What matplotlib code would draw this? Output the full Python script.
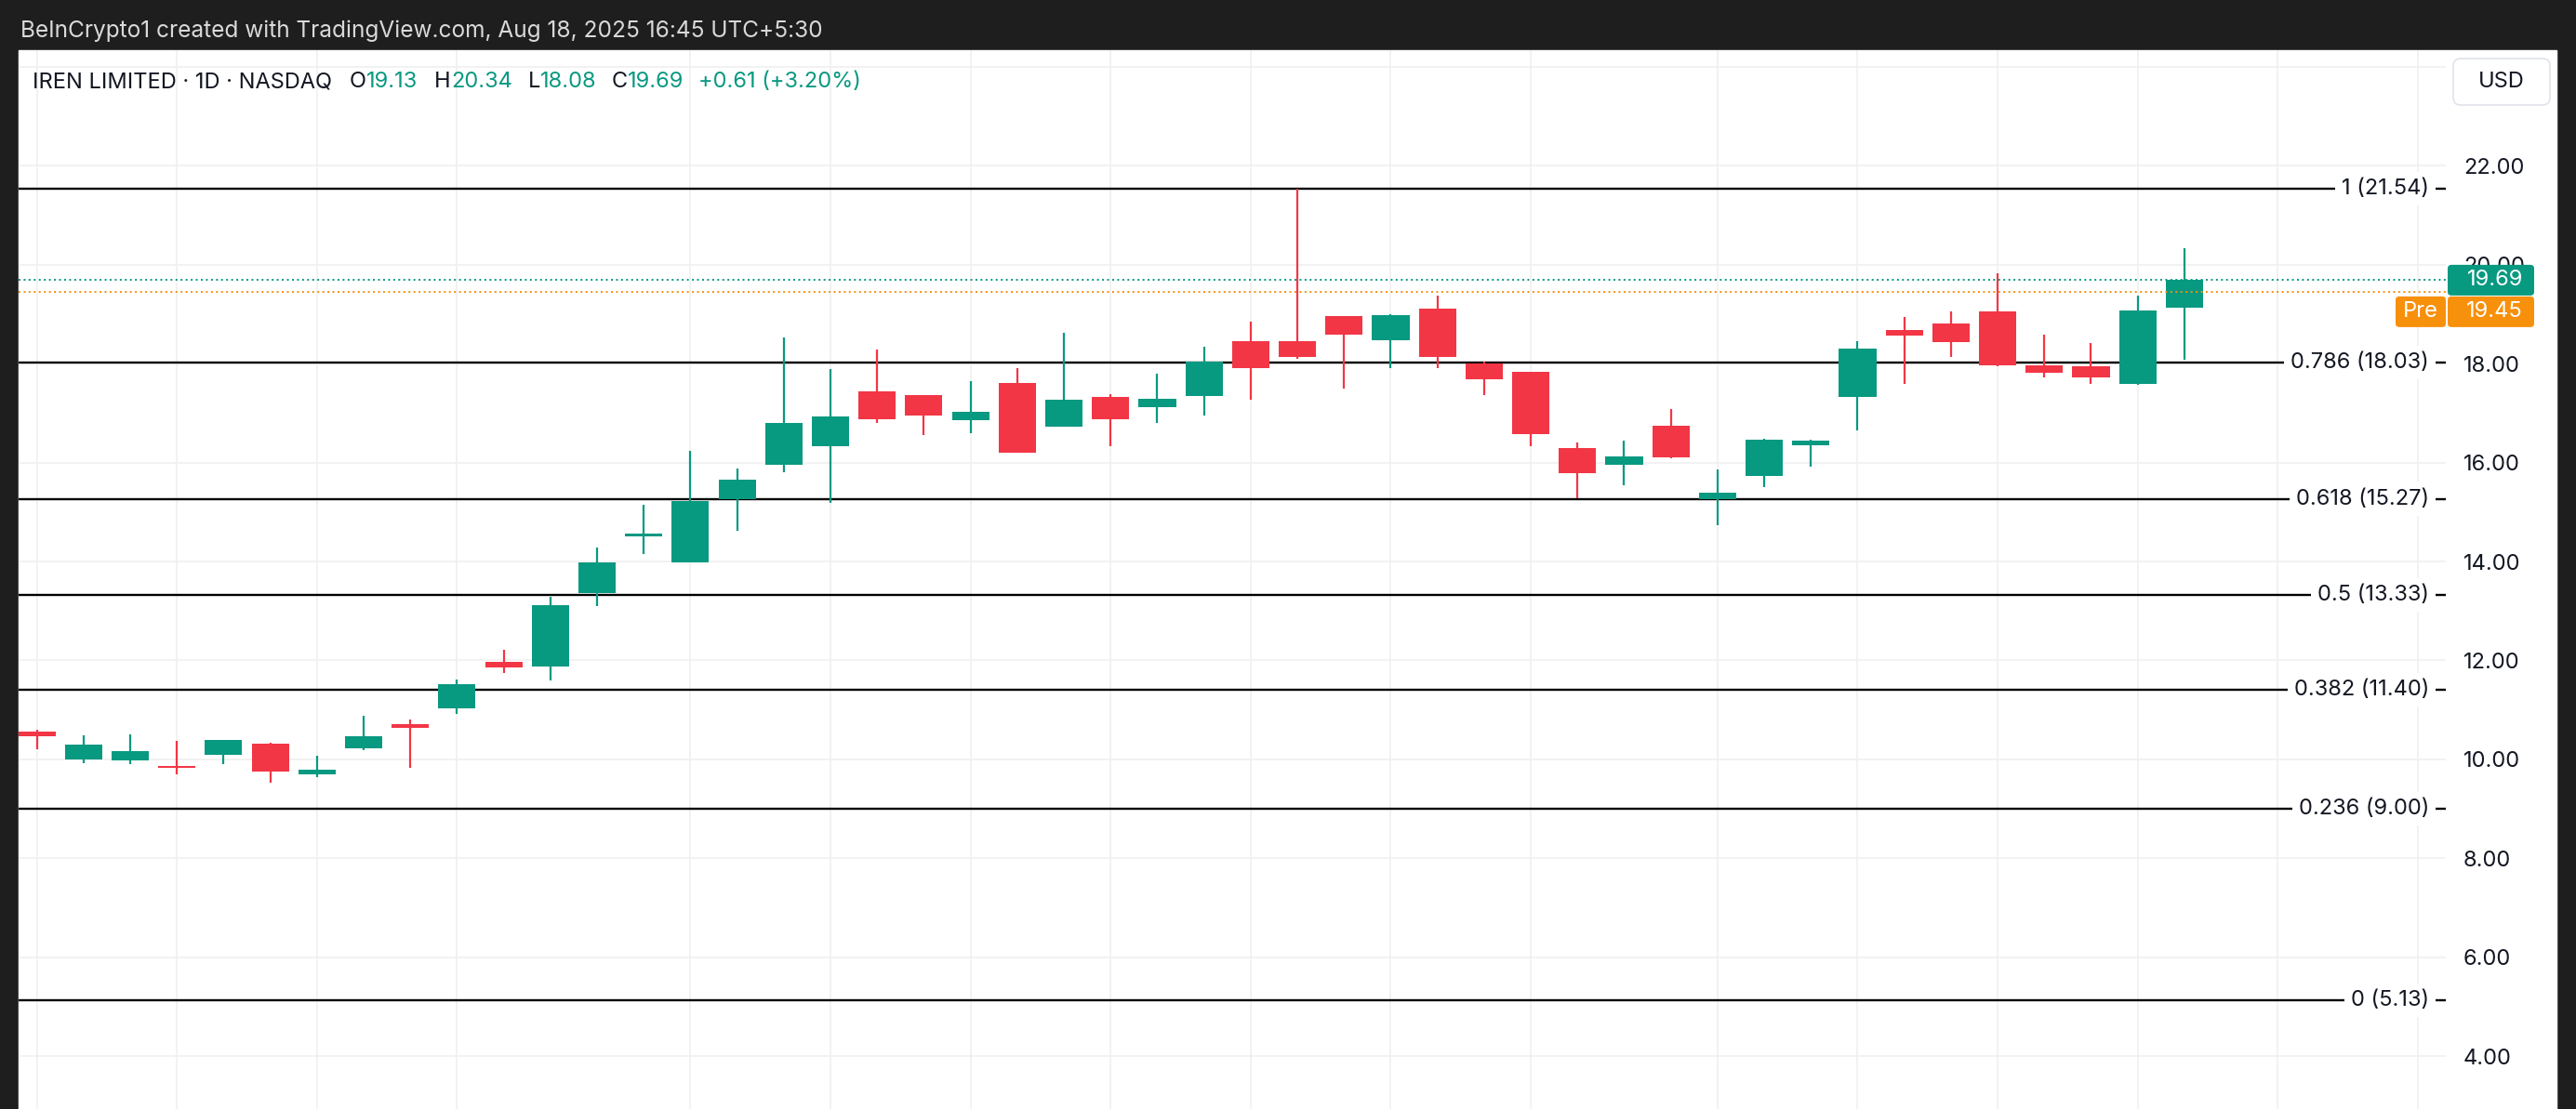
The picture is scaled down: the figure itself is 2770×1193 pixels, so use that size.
import numpy as np
import matplotlib
matplotlib.use("Agg")
import matplotlib.pyplot as plt
from matplotlib.patches import Rectangle, FancyBboxPatch
from matplotlib.transforms import blended_transform_factory

plt.rcParams['font.family'] = ['Inter', 'DejaVu Sans']

# daily candles, IREN
opens  = [10.57, 10.00, 9.98, 9.87, 10.09, 10.31, 9.70, 10.22, 10.72, 11.04,
          11.97, 11.87, 13.37, 14.50, 13.98, 15.27, 15.95, 16.33, 17.45, 17.37,
          16.85, 17.62, 16.72, 17.33, 17.12, 17.34, 18.46, 18.46, 18.97, 18.47,
          19.12, 18.01, 17.84, 16.30, 15.96, 16.75, 15.27, 15.73, 16.36, 17.32,
          18.69, 18.82, 19.06, 17.97, 17.95, 17.60, 19.13]
highs  = [10.59, 10.48, 10.50, 10.38, 10.40, 10.33, 10.08, 10.89, 10.81, 11.62,
          12.22, 13.29, 14.29, 15.14, 16.23, 15.89, 18.54, 17.90, 18.29, 17.37,
          17.65, 17.92, 18.63, 17.39, 17.80, 18.35, 18.86, 21.54, 18.97, 19.01,
          19.37, 18.04, 17.84, 16.40, 16.45, 17.09, 15.87, 16.49, 16.47, 18.46,
          18.95, 19.06, 19.83, 18.59, 18.42, 19.38, 20.34]
lows   = [10.20, 9.92, 9.90, 9.70, 9.90, 9.53, 9.64, 10.18, 9.83, 10.91,
          11.74, 11.59, 13.09, 14.15, 13.98, 14.62, 15.80, 15.18, 16.81, 16.55,
          16.59, 16.21, 16.72, 16.33, 16.80, 16.95, 17.27, 18.09, 17.49, 17.92,
          17.92, 17.37, 16.34, 15.28, 15.54, 16.08, 14.73, 15.50, 15.91, 16.66,
          17.60, 18.13, 17.94, 17.72, 17.60, 17.57, 18.08]
closes = [10.47, 10.29, 10.16, 9.83, 10.40, 9.75, 9.80, 10.46, 10.63, 11.52,
          11.85, 13.11, 13.99, 14.57, 15.23, 15.66, 16.81, 16.94, 16.87, 16.95,
          17.03, 16.21, 17.28, 16.87, 17.30, 18.05, 17.92, 18.13, 18.58, 18.99,
          18.13, 17.69, 16.57, 15.78, 16.13, 16.10, 15.40, 16.47, 16.45, 18.31,
          18.56, 18.43, 17.96, 17.81, 17.72, 19.08, 19.69]

fib_ratios = ["1", "0.786", "0.618", "0.5", "0.382", "0.236", "0"]
fib_prices = [21.54, 18.03, 15.27, 13.33, 11.40, 9.00, 5.13]

price_ticks = [4, 6, 8, 10, 12, 14, 16, 18, 20, 22, 24]
price_labels = ["4.00", "6.00", "8.00", "10.00", "12.00", "14.00", "16.00",
                "18.00", "20.00", "22.00", ""]  # 24 sits under the USD button
grid_days = [0, 3, 6, 9, 14, 17, 20, 23, 26, 29, 32, 36, 39, 42, 45, 48, 51]

last_price = 19.69
pre_price = 19.45

header = "BeInCrypto1 created with TradingView.com, Aug 18, 2025 16:45 UTC+5:30"
legend_parts = [("IREN LIMITED · 1D · NASDAQ", "k", 19), ("O", "k", 0), ("19.13", "g", 18),
                ("H", "k", 0), ("20.34", "g", 17), ("L", "k", 0), ("18.08", "g", 16),
                ("C", "k", 0), ("19.69", "g", 16), ("+0.61 (+3.20%)", "g", 0)]

DARK = "#1e1e1e"
GREEN = "#089981"
RED = "#f23645"
ORANGE = "#f7900a"
INK = "#131722"
GRID = "#f0f0f0"
FS = 17
FS_HEAD = 17

W, H = 2770, 1193
fig = plt.figure(figsize=(W / 100, H / 100), dpi=100, facecolor=DARK)
fig.patches.append(Rectangle((20 / W, 0), (2749 - 20) / W, (H - 54) / H,
                             transform=fig.transFigure, color="white", zorder=-10))

ax = fig.add_axes([20 / W, 0, (2630 - 20) / W, (H - 54) / H])
ax.set_facecolor("white")
ax.set_xlim(-0.39, 51.6)
ax.set_ylim(2.93, 24.34)
for s in ax.spines.values():
    s.set_visible(False)

ax.set_xticks(grid_days)
ax.tick_params(axis="x", length=0, labelbottom=False)
ax.yaxis.tick_right()
ax.set_yticks(price_ticks)
ax.set_yticklabels(price_labels)
ax.tick_params(axis="y", length=0, pad=13.7, labelsize=FS, labelcolor=INK)
ax.grid(True, color=GRID, linewidth=1.2, zorder=0)
ax.set_axisbelow(True)

# candles
o = np.array(opens)
c = np.array(closes)
x = np.arange(len(o))
cols = [GREEN if cc >= oo else RED for oo, cc in zip(o, c)]
ax.vlines(x, lows, highs, colors=cols, linewidth=1.6, zorder=3)
ax.bar(x, np.maximum(np.abs(c - o), 0.03), bottom=np.minimum(o, c), width=0.8,
       color=cols, linewidth=0, zorder=3.1)

# fib retracement
trans = blended_transform_factory(ax.transAxes, ax.transData)
xr = (2612 - 20) / (2630 - 20)
for r, p in zip(fib_ratios, fib_prices):
    ax.axhline(p, color="black", linewidth=1.7, zorder=2)
    ax.text(xr, p, f"{r} ({p:.2f})", transform=trans, ha="right", va="center",
            fontsize=FS, color=INK, zorder=2.5,
            bbox=dict(boxstyle="square,pad=0.3", fc="white", ec="none"))

ax.axhline(last_price, color=GREEN, linewidth=1.4, linestyle=(0, (1, 1.8)), zorder=4)
ax.axhline(pre_price, color=ORANGE, linewidth=1.4, linestyle=(0, (1, 1.8)), zorder=4)

# price tags on the axis (pixel layout -> inches)
def ypx(p):
    return ax.transData.transform((0, p))[1]

def box(x0, x1, yc, h, color):
    b = FancyBboxPatch((x0 / 100, (yc - h / 2) / 100), (x1 - x0) / 100, h / 100,
                       boxstyle="round,pad=0,rounding_size=0.04", fc=color, ec="none",
                       transform=fig.dpi_scale_trans, zorder=6)
    fig.add_artist(b)

th = 33
y_last = ypx(last_price)
box(2632, 2725, y_last, th, GREEN)
fig.text(2713 / W, y_last / H, f"{last_price:.2f}", ha="right", va="center",
         fontsize=FS, color="white", zorder=7)
y_pre = y_last - th - 1
box(2632, 2725, y_pre, th, ORANGE)
box(2576, 2630, y_pre, th, ORANGE)
fig.text(2713 / W, y_pre / H, f"{pre_price:.2f}", ha="right", va="center",
         fontsize=FS, color="white", zorder=7)
fig.text(2603 / W, y_pre / H, "Pre", ha="center", va="center",
         fontsize=FS, color="white", zorder=7)

# USD box
usd = FancyBboxPatch((2638 / 100, 1080 / 100), 104 / 100, 50 / 100,
                     boxstyle="round,pad=0,rounding_size=0.08", fc="white", ec="#e0e3eb",
                     linewidth=1.2, transform=fig.dpi_scale_trans, zorder=6)
fig.add_artist(usd)
fig.text(2690 / W, 1105 / H, "USD", ha="center", va="center", fontsize=FS, color=INK, zorder=7)

# header texts
fig.text(22 / W, (H - 40) / H, header, ha="left", va="baseline", fontsize=17.6, color="#d9d9d9")

renderer = fig.canvas.get_renderer()
xpos = 35
for txt, kind, gap in legend_parts:
    t = fig.text(xpos / W, (H - 94) / H, txt, ha="left", va="baseline", fontsize=FS_HEAD,
                 color=INK if kind == "k" else GREEN, zorder=7)
    bb = t.get_window_extent(renderer)
    xpos = bb.x1 + gap

fig.savefig("out.png", dpi=100, facecolor=DARK)
